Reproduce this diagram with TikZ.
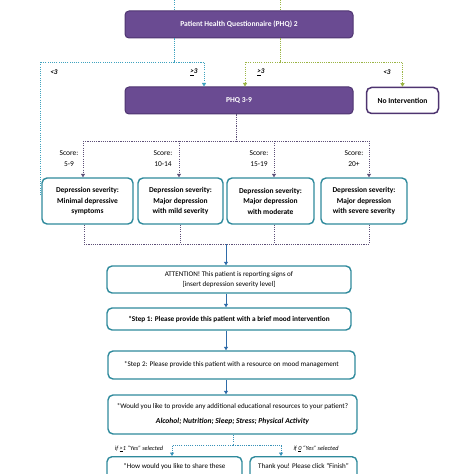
\documentclass[tikz,border=0pt]{standalone}
\usepackage{fontspec}
\setmainfont{Carlito}
\usetikzlibrary{arrows.meta,calc}
\definecolor{pfill}{HTML}{6A4B92}
\definecolor{pdraw}{HTML}{4E3470}
\definecolor{tealb}{HTML}{2F8A9C}
\definecolor{bluedot}{HTML}{3FA3BF}
\definecolor{greendot}{HTML}{9BB545}
\definecolor{purpdot}{HTML}{5E5078}
\definecolor{arrblue}{HTML}{2E6BA8}
\tikzset{
 pbox/.style={draw=pdraw, fill=pfill, line width=1bp, rounded corners=4bp, text=white,
   font=\fontsize{7.6}{9}\selectfont\bfseries, inner sep=0pt},
 wbox/.style={draw=pdraw, fill=white, line width=1.5bp, rounded corners=5bp,
   font=\fontsize{7.6}{9}\selectfont\bfseries, inner sep=0pt},
 tbox/.style={draw=tealb, fill=white, line width=1.4bp, rounded corners=5bp, align=center,
   inner sep=0pt, font=\fontsize{7.5}{10.5}\selectfont\bfseries},
 rbox/.style={draw=tealb, fill=white, line width=1.4bp, rounded corners=5bp, align=center,
   inner sep=0pt, font=\fontsize{7.1}{10}\selectfont},
 dots/.style={line width=0.8bp, dash pattern=on 1.1bp off 1.1bp},
 arr/.style={-{Triangle[length=3.5bp,width=4bp]}},
 lab/.style={font=\fontsize{7.2}{8}\selectfont\bfseries\itshape, inner sep=0pt},
 score/.style={font=\fontsize{7.5}{11}\selectfont, align=center, inner sep=0pt},
 small/.style={font=\fontsize{6.3}{7}\selectfont\itshape, inner sep=0pt},
}
\begin{document}
\begin{tikzpicture}[x=1bp,y=-1bp]
\useasboundingbox (0,0) rectangle (474,474);
\begin{scope}
\clip (0,0) rectangle (474,474);
% top nodes
\node[pbox, minimum width=228bp, minimum height=27bp] (phq2) at (239,24.5) {Patient Health Questionnaire (PHQ) 2};
\node[pbox, minimum width=228bp, minimum height=27bp] (phq39) at (239,100.5) {PHQ 3-9};
\node[wbox, minimum width=72bp, minimum height=26bp] (noint) at (402.5,100.5) {No Intervention};
\coordinate (topb) at (174,0);
\coordinate (topg) at (280,0);
\coordinate (bsplit) at (174,62);
\coordinate (gsplit) at (280,62);
% blue
\draw[bluedot,dots] (topb) -- (topb |- phq2.north);
\draw[bluedot,dots] (topb |- phq2.south) -- (bsplit);
\draw[bluedot,dots,arr] (bsplit) -| (204,0 |- phq39.north);
% green
\draw[greendot,dots] (topg) -- (topg |- phq2.north);
\draw[greendot,dots] (topg |- phq2.south) -- (gsplit);
\draw[greendot,dots,arr] (gsplit) -| (245,0 |- phq39.north);
\draw[greendot,dots,arr] (gsplit) -| (noint.north);
% labels
\node[lab] (l1) at (54,72) {<3};
\node[lab] (l2) at (194,72) {\underline{>}3};
\node[lab] (l3) at (261,72) {\underline{>}3};
\node[lab] (l4) at (387,72) {<3};
% severity boxes
\node[tbox, minimum width=91bp, minimum height=46bp] (minb) at (87.5,201) {Depression severity:\\Minimal depressive\\symptoms};
\node[tbox, minimum width=85bp, minimum height=46bp] (mild) at (180.5,201) {Depression severity:\\Major depression\\with mild severity};
\node[tbox, minimum width=87bp, minimum height=46bp] (mod) at (270.5,201) {Depression severity:\\Major depression\\with moderate};
\node[tbox, minimum width=86bp, minimum height=46bp] (sev) at (364,201) {Depression severity:\\Major depression\\with severe severity};
% blue left branch to minimal box
\draw[bluedot,dots] (bsplit) -| (40,194) -- (40,194 -| minb.west);
% purple distribution
\coordinate (psplit) at (236,141);
\draw[purpdot,dots] (236,0 |- phq39.south) -- (psplit);
\draw[purpdot,dots] (83,141) -- (369,141);
\draw[purpdot,dots,arr] (83,141) -- (83,0 |- minb.north);
\draw[purpdot,dots,arr] (179,141) -- (179,0 |- mild.north);
\draw[purpdot,dots,arr] (274,141) -- (274,0 |- mod.north);
\draw[purpdot,dots,arr] (369,141) -- (369,0 |- sev.north);
\node[score] (s1) at (69,158.5) {Score:\\5-9};
\node[score] (s2) at (163,158.5) {Score:\\10-14};
\node[score] (s3) at (259,158.5) {Score:\\15-19};
\node[score] (s4) at (354,158.5) {Score:\\20+};
% collect
\coordinate (cjoin) at (226,244);
\draw[purpdot,dots] (84,0 |- minb.south) -- (84,244);
\draw[purpdot,dots] (180,0 |- mild.south) -- (180,244);
\draw[purpdot,dots] (274,0 |- mod.south) -- (274,244);
\draw[purpdot,dots] (369,0 |- sev.south) -- (369,244);
\draw[purpdot,dots] (84,244) -- (369,244);
% lower boxes
\node[rbox, minimum width=244bp, minimum height=27bp] (attn) at (229,279.5) {ATTENTION! This patient is reporting signs of\\{}[insert depression severity level]};
\node[rbox, minimum width=244bp, minimum height=22bp, font=\fontsize{7.3}{8}\selectfont\bfseries] (step1) at (229,319) {*Step 1: Please provide this patient with a brief mood intervention};
\node[rbox, minimum width=247bp, minimum height=28bp] (step2) at (231.5,365) {*Step 2: Please provide this patient with a resource on mood management};
\node[rbox, minimum width=249bp, minimum height=39bp] (quest) at (232.5,414.5) {*Would you like to provide any additional educational resources to your patient?\\[5bp]{\fontsize{7.6}{8}\selectfont\bfseries\itshape Alcohol; Nutrition; Sleep; Stress; Physical Activity}};
\draw[arrblue,line width=0.9bp,arr] (cjoin) -- (226,0 |- attn.north);
\draw[arrblue,line width=0.9bp,arr] (226,0 |- attn.south) -- (226,0 |- step1.north);
\draw[arrblue,line width=0.9bp,arr] (226,0 |- step1.south) -- (226,0 |- step2.north);
\draw[arrblue,line width=0.9bp,arr] (226,0 |- step2.south) -- (226,0 |- quest.north);
% bottom
\node[rbox, anchor=north, minimum width=135bp, text height=12bp, text depth=30bp] (share) at (174.5,456) {*How would you like to share these};
\node[rbox, anchor=north, minimum width=107bp, text height=12bp, text depth=30bp] (thanks) at (303.5,456) {Thank you! Please click ``Finish''};
\coordinate (qsplit) at (233,445);
\draw[bluedot!70!arrblue,dots] (233,0 |- quest.south) -- (qsplit);
\draw[bluedot!70!arrblue,dots,arr] (qsplit) -| (172,0 |- share.north);
\draw[bluedot!70!arrblue,dots,arr] (qsplit) -| (281,0 |- thanks.north);
\node[small] (y1) at (139,449) {if \underline{>}1 ``Yes'' selected};
\node[small] (y2) at (316,449) {if \underline{0} ``Yes'' selected};
\end{scope}
\end{tikzpicture}
\end{document}
